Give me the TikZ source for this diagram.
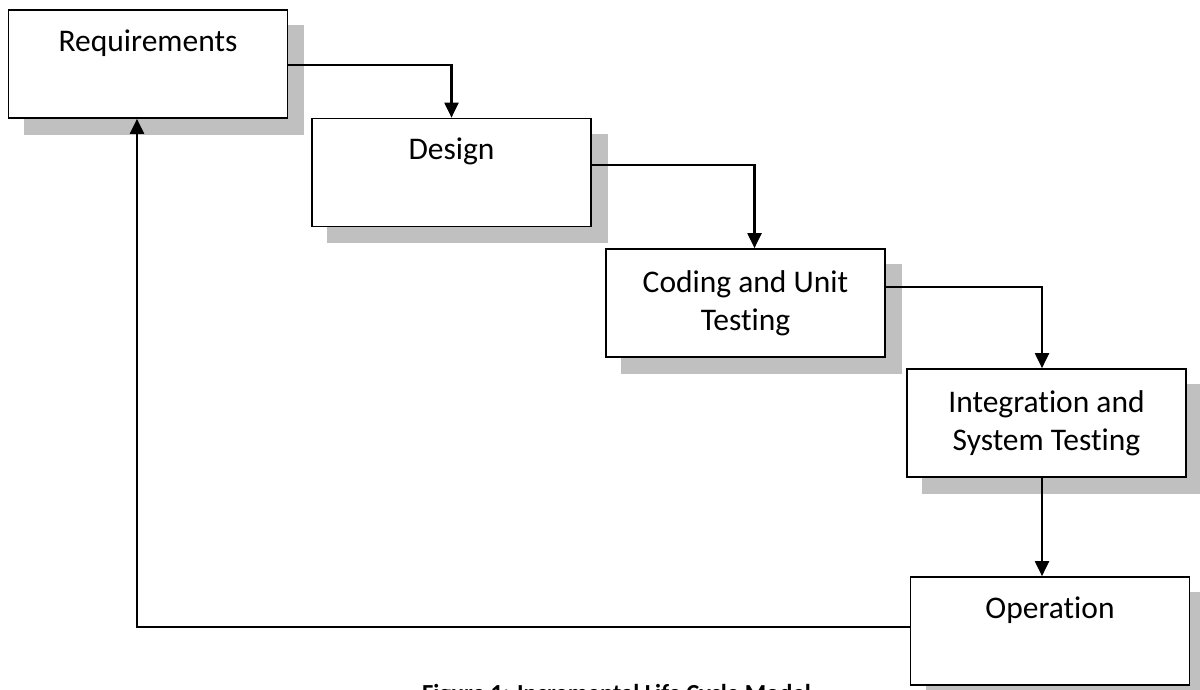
\documentclass[tikz,border=0pt]{standalone}
\usepackage{fontspec}
\setmainfont{Carlito}[Ligatures={NoCommon}]
\usetikzlibrary{arrows.meta,backgrounds}
\definecolor{shadowgray}{HTML}{C0C0C0}
\tikzset{
  x=1pt, y=-1pt,
  stagebox/.style={draw=black, line width=1.7pt, fill=white, minimum width=279pt, minimum height=108pt, inner sep=0pt},
  stagetext/.style={anchor=base, inner sep=0pt, font=\fontsize{31.5}{38}\selectfont},
  shadowfill/.style={fill=shadowgray},
  conn/.style={line width=2.1pt, -{Triangle[length=15pt,width=14pt]}},
  captiontext/.style={anchor=base west, inner sep=0pt, font=\bfseries\fontsize{24.5}{29}\selectfont}
}
\begin{document}
\begin{tikzpicture}
\useasboundingbox (0,0) rectangle (1200,690);
\clip (0,0) rectangle (1200,690);

\node[stagebox] (req) at (148,64) {};
\node[stagebox] (design) at (451.5,172.5) {};
\node[stagebox] (coding) at (745.5,303) {};
\node[stagebox] (integ) at (1046.5,423) {};
\node[stagebox] (oper) at (1050,631) {};

\begin{pgfonlayer}{background}
  \fill[white] (0,0) rectangle (1200,690);
  \foreach \b in {req,design,coding,integ,oper}{
    \fill[shadowfill] ([xshift=16pt,yshift=-16pt]\b.south west) rectangle ([xshift=16pt,yshift=-16pt]\b.north east);
  }
\end{pgfonlayer}

\node[stagetext] (reqT) at (148,52) {Requirements};
\node[stagetext] (designT) at (451.5,160) {Design};
\node[stagetext] (codingTa) at (745.5,292) {Coding and Unit};
\node[stagetext] (codingTb) at (745.5,330) {Testing};
\node[stagetext] (integTa) at (1046.5,412) {Integration and};
\node[stagetext] (integTb) at (1046.5,450) {System Testing};
\node[stagetext] (operT) at (1050,618) {Operation};

\draw[conn] ([yshift=-1pt]req.east) -| (design.north);
\draw[conn] ([yshift=7.5pt]design.east) -| ([xshift=9pt]coding.north);
\draw[conn] ([yshift=16pt]coding.east) -| ([xshift=-4.5pt]integ.north);
\draw[conn] ([xshift=-4.5pt]integ.south) -- ([xshift=-4.5pt]integ.south |- oper.north);
\draw[conn] ([yshift=4pt]oper.west) -| ([xshift=-11pt]req.south);

\node[captiontext] (caption) at (422,701) {Figure 1: Incremental Life Cycle Model};
\end{tikzpicture}
\end{document}
